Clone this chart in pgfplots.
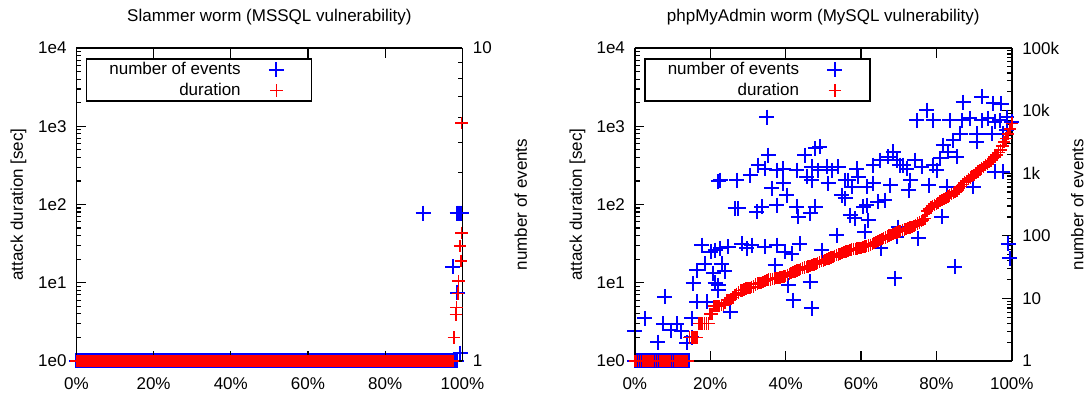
\documentclass[border=0pt]{standalone}
\usepackage{pgfplots}
\pgfplotsset{compat=1.18}
\usepackage{fontspec}
\setmainfont{Liberation Sans}
\newcommand\fsz{\fontsize{8.5}{10.2}\selectfont}
\pgfplotsset{
  mybase/.style={
    scale only axis, height=156.5pt, anchor=south west,
    xmin=0, xmax=100, clip=false,
    tick align=inside,
    major tick length=4.8pt, minor tick length=2.4pt,
    every tick/.style={black, line width=0.6pt},
    axis line style={black, line width=0.8pt},
    tick label style={font=\fsz},
    label style={font=\fsz},
    title style={font=\fsz, at={(axis description cs:0.5,1)}, anchor=center, yshift=9.5pt},
  },
  myev/.style={only marks, mark=+, color=blue, mark size=3.75pt, line width=1pt},
  mydu/.style={only marks, mark=+, color=red, mark size=3.1pt, line width=0.8pt},
}
\begin{document}
\fsz
\begin{tikzpicture}
\useasboundingbox (0,0) rectangle (543pt,197pt);
\clip (0,0) rectangle (543pt,197pt);
% ---------------- left: Slammer ----------------
\begin{axis}[mybase, ymode=log, axis x line=none, axis y line*=right,
  at={(38.2pt,16.5pt)}, width=193pt, ymin=1, ymax=10,
  ytick={1,10}, yticklabels={1,10}, yticklabel style={xshift=2.2pt},
  ylabel={number of events},
  ylabel style={at={(axis description cs:1.1513,0.5)}, anchor=center}]
\addplot[myev] coordinates {
(0,1)(0.5,1)(1,1)(1.5,1)(2,1)(2.5,1)(3,1)(3.5,1)(4,1)(4.5,1)(5,1)(5.5,1)(6,1)(6.5,1)(7,1)(7.5,1)(8,1)(8.5,1)(9,1)(9.5,1)
(10,1)(10.5,1)(11,1)(11.5,1)(12,1)(12.5,1)(13,1)(13.5,1)(14,1)(14.5,1)(15,1)(15.5,1)(16,1)(16.5,1)(17,1)(17.5,1)(18,1)(18.5,1)(19,1)(19.5,1)
(20,1)(20.5,1)(21,1)(21.5,1)(22,1)(22.5,1)(23,1)(23.5,1)(24,1)(24.5,1)(25,1)(25.5,1)(26,1)(26.5,1)(27,1)(27.5,1)(28,1)(28.5,1)(29,1)(29.5,1)
(30,1)(30.5,1)(31,1)(31.5,1)(32,1)(32.5,1)(33,1)(33.5,1)(34,1)(34.5,1)(35,1)(35.5,1)(36,1)(36.5,1)(37,1)(37.5,1)(38,1)(38.5,1)(39,1)(39.5,1)
(40,1)(40.5,1)(41,1)(41.5,1)(42,1)(42.5,1)(43,1)(43.5,1)(44,1)(44.5,1)(45,1)(45.5,1)(46,1)(46.5,1)(47,1)(47.5,1)(48,1)(48.5,1)(49,1)(49.5,1)
(50,1)(50.5,1)(51,1)(51.5,1)(52,1)(52.5,1)(53,1)(53.5,1)(54,1)(54.5,1)(55,1)(55.5,1)(56,1)(56.5,1)(57,1)(57.5,1)(58,1)(58.5,1)(59,1)(59.5,1)
(60,1)(60.5,1)(61,1)(61.5,1)(62,1)(62.5,1)(63,1)(63.5,1)(64,1)(64.5,1)(65,1)(65.5,1)(66,1)(66.5,1)(67,1)(67.5,1)(68,1)(68.5,1)(69,1)(69.5,1)
(70,1)(70.5,1)(71,1)(71.5,1)(72,1)(72.5,1)(73,1)(73.5,1)(74,1)(74.5,1)(75,1)(75.5,1)(76,1)(76.5,1)(77,1)(77.5,1)(78,1)(78.5,1)(79,1)(79.5,1)
(80,1)(80.5,1)(81,1)(81.5,1)(82,1)(82.5,1)(83,1)(83.5,1)(84,1)(84.5,1)(85,1)(85.5,1)(86,1)(86.5,1)(87,1)(87.5,1)(88,1)(88.5,1)(89,1)(89.5,1)
(90,1)(90.5,1)(91,1)(91.5,1)(92,1)(92.5,1)(93,1)(93.5,1)(94,1)(94.5,1)(95,1)(95.5,1)(96,1)(96.5,1)(97,1)(97.5,1)(98,1)(98.5,1)
(89.8,2.97)(98.6,2.97)(98.9,2.97)(99.2,2.97)(99.5,2.97)(99.7,2.97)(97.5,2.0)(98.7,1.65)(99.4,1.06)
};
\end{axis}
\begin{axis}[mybase, ymode=log, axis y line*=left, axis on top, at={(38.2pt,16.5pt)}, width=193pt,
  ymin=1, ymax=1e4,
  ytick={1,10,100,1000,10000}, yticklabels={1e0,1e1,1e2,1e3,1e4},
  yticklabel style={xshift=-1.9pt},
  xtick={0,20,40,60,80,100}, xticklabels={0\%,20\%,40\%,60\%,80\%,100\%},
  xticklabel style={yshift=-5.2pt},
  ylabel={attack duration [sec]},
  ylabel style={at={(axis description cs:-0.1503,0.5)}, anchor=center},
  title={Slammer worm (MSSQL vulnerability)},
  legend style={at={(axis description cs:0,1)}, anchor=north west, xshift=4.8pt, yshift=-5.2pt,
    draw=black, line width=0.7pt, fill=white, inner sep=0pt, row sep=0pt,
    nodes={inner sep=0pt, minimum height=10.5pt}, font=\fsz},
  legend plot pos=right, legend cell align=right,
  legend image code/.code={\path (0pt,0pt) (34.5pt,0pt); \draw[#1] plot coordinates {(17.3pt,0pt)};}]
\addlegendimage{only marks, mark=+, color=blue, mark size=3.75pt, line width=1pt}
\addlegendentry{\makebox[77pt][r]{number of events}}
\addplot[mydu] coordinates {
(0,1)(0.5,1)(1,1)(1.5,1)(2,1)(2.5,1)(3,1)(3.5,1)(4,1)(4.5,1)(5,1)(5.5,1)(6,1)(6.5,1)(7,1)(7.5,1)(8,1)(8.5,1)(9,1)(9.5,1)
(10,1)(10.5,1)(11,1)(11.5,1)(12,1)(12.5,1)(13,1)(13.5,1)(14,1)(14.5,1)(15,1)(15.5,1)(16,1)(16.5,1)(17,1)(17.5,1)(18,1)(18.5,1)(19,1)(19.5,1)
(20,1)(20.5,1)(21,1)(21.5,1)(22,1)(22.5,1)(23,1)(23.5,1)(24,1)(24.5,1)(25,1)(25.5,1)(26,1)(26.5,1)(27,1)(27.5,1)(28,1)(28.5,1)(29,1)(29.5,1)
(30,1)(30.5,1)(31,1)(31.5,1)(32,1)(32.5,1)(33,1)(33.5,1)(34,1)(34.5,1)(35,1)(35.5,1)(36,1)(36.5,1)(37,1)(37.5,1)(38,1)(38.5,1)(39,1)(39.5,1)
(40,1)(40.5,1)(41,1)(41.5,1)(42,1)(42.5,1)(43,1)(43.5,1)(44,1)(44.5,1)(45,1)(45.5,1)(46,1)(46.5,1)(47,1)(47.5,1)(48,1)(48.5,1)(49,1)(49.5,1)
(50,1)(50.5,1)(51,1)(51.5,1)(52,1)(52.5,1)(53,1)(53.5,1)(54,1)(54.5,1)(55,1)(55.5,1)(56,1)(56.5,1)(57,1)(57.5,1)(58,1)(58.5,1)(59,1)(59.5,1)
(60,1)(60.5,1)(61,1)(61.5,1)(62,1)(62.5,1)(63,1)(63.5,1)(64,1)(64.5,1)(65,1)(65.5,1)(66,1)(66.5,1)(67,1)(67.5,1)(68,1)(68.5,1)(69,1)(69.5,1)
(70,1)(70.5,1)(71,1)(71.5,1)(72,1)(72.5,1)(73,1)(73.5,1)(74,1)(74.5,1)(75,1)(75.5,1)(76,1)(76.5,1)(77,1)(77.5,1)(78,1)(78.5,1)(79,1)(79.5,1)
(80,1)(80.5,1)(81,1)(81.5,1)(82,1)(82.5,1)(83,1)(83.5,1)(84,1)(84.5,1)(85,1)(85.5,1)(86,1)(86.5,1)(87,1)(87.5,1)(88,1)(88.5,1)(89,1)(89.5,1)
(90,1)(90.5,1)(91,1)(91.5,1)(92,1)(92.5,1)(93,1)(93.5,1)(94,1)(94.5,1)(95,1)(95.5,1)(96,1)(96.5,1)(97,1)(97.5,1)
(0.25,1)(0.75,1)(1.25,1)(1.75,1)(2.25,1)(2.75,1)(3.25,1)(3.75,1)(4.25,1)(4.75,1)(5.25,1)(5.75,1)(6.25,1)(6.75,1)(7.25,1)(7.75,1)(8.25,1)(8.75,1)(9.25,1)(9.75,1)
(10.25,1)(10.75,1)(11.25,1)(11.75,1)(12.25,1)(12.75,1)(13.25,1)(13.75,1)(14.25,1)(14.75,1)(15.25,1)(15.75,1)(16.25,1)(16.75,1)(17.25,1)(17.75,1)(18.25,1)(18.75,1)(19.25,1)(19.75,1)
(20.25,1)(20.75,1)(21.25,1)(21.75,1)(22.25,1)(22.75,1)(23.25,1)(23.75,1)(24.25,1)(24.75,1)(25.25,1)(25.75,1)(26.25,1)(26.75,1)(27.25,1)(27.75,1)(28.25,1)(28.75,1)(29.25,1)(29.75,1)
(30.25,1)(30.75,1)(31.25,1)(31.75,1)(32.25,1)(32.75,1)(33.25,1)(33.75,1)(34.25,1)(34.75,1)(35.25,1)(35.75,1)(36.25,1)(36.75,1)(37.25,1)(37.75,1)(38.25,1)(38.75,1)(39.25,1)(39.75,1)
(40.25,1)(40.75,1)(41.25,1)(41.75,1)(42.25,1)(42.75,1)(43.25,1)(43.75,1)(44.25,1)(44.75,1)(45.25,1)(45.75,1)(46.25,1)(46.75,1)(47.25,1)(47.75,1)(48.25,1)(48.75,1)(49.25,1)(49.75,1)
(50.25,1)(50.75,1)(51.25,1)(51.75,1)(52.25,1)(52.75,1)(53.25,1)(53.75,1)(54.25,1)(54.75,1)(55.25,1)(55.75,1)(56.25,1)(56.75,1)(57.25,1)(57.75,1)(58.25,1)(58.75,1)(59.25,1)(59.75,1)
(60.25,1)(60.75,1)(61.25,1)(61.75,1)(62.25,1)(62.75,1)(63.25,1)(63.75,1)(64.25,1)(64.75,1)(65.25,1)(65.75,1)(66.25,1)(66.75,1)(67.25,1)(67.75,1)(68.25,1)(68.75,1)(69.25,1)(69.75,1)
(70.25,1)(70.75,1)(71.25,1)(71.75,1)(72.25,1)(72.75,1)(73.25,1)(73.75,1)(74.25,1)(74.75,1)(75.25,1)(75.75,1)(76.25,1)(76.75,1)(77.25,1)(77.75,1)(78.25,1)(78.75,1)(79.25,1)(79.75,1)
(80.25,1)(80.75,1)(81.25,1)(81.75,1)(82.25,1)(82.75,1)(83.25,1)(83.75,1)(84.25,1)(84.75,1)(85.25,1)(85.75,1)(86.25,1)(86.75,1)(87.25,1)(87.75,1)(88.25,1)(88.75,1)(89.25,1)(89.75,1)
(90.25,1)(90.75,1)(91.25,1)(91.75,1)(92.25,1)(92.75,1)(93.25,1)(93.75,1)(94.25,1)(94.75,1)(95.25,1)(95.75,1)(96.25,1)(96.75,1)(97.25,1)
(97.8,2)(97.9,2)(98.3,3.95)(98.5,4.85)(98.8,7.3)(99.0,10.5)(99.6,19)(99.4,29.7)(99.8,43.5)(99.8,1100)
};
\addlegendentry{\makebox[77pt][r]{duration}}
\end{axis}
% ---------------- right: phpMyAdmin ----------------
\begin{axis}[mybase, ymode=log, axis x line=none, axis y line*=right,
  at={(317.4pt,16.5pt)}, width=188.5pt, ymin=1, ymax=1e5,
  ytick={1,10,100,1000,10000,100000}, yticklabels={1,10,100,1k,10k,100k},
  yticklabel style={xshift=2.2pt},
  ylabel={number of events},
  ylabel style={at={(axis description cs:1.1735,0.5)}, anchor=center}]
\addplot[myev] coordinates {
(0,1)(0.5,1)(1,1)(1.5,1)(2,1)(2.5,1)(3,1)(3.5,1)(4,1)(4.5,1)(5,1)(5.5,1)(6,1)(6.5,1)(7,1)(7.5,1)(8,1)(8.5,1)(9,1)(9.5,1)
(10,1)(10.5,1)(11,1)(11.5,1)(12,1)(12.5,1)(13,1)(13.5,1)(14,1)(14.5,1)
(0,3)(2.7,4.8)(6.1,2)(8.0,10.6)(7.6,3.9)(9.5,3.1)(11.1,3.9)(12.3,3.0)(13.8,1.95)(15.1,4.8)(15.5,17.4)(16.4,8.8)(15.1,2.4)
(17.7,71)(18.6,36)(16.4,28)(19.1,8.8)(20.2,56)(20.8,25)(21.3,17.8)(22.1,13.6)(23.0,36)(21.3,59)(22.1,745)
(35.0,7900)(22.6,775)(27.0,775)(30.6,930)(32.8,1350)(35.4,1950)(34.5,1180)(37.6,1120)(39.4,1180)(36.3,570)(39.4,690)
(40.3,445)(42.9,1120)(45.1,1950)(45.6,870)(46.9,775)(26.6,275)(27.4,275)(32.3,240)(33.7,290)(37.6,310)(42.9,290)
(43.4,200)(46.5,228)(22.6,63)(24.8,67)(28.4,75)(29.7,63)(31.0,71)(34.5,67)(37.6,71)(39.8,56)(41.6,52)(43.8,75)
(37.2,34)(23.9,27)(22.1,16.3)(25.3,6.1)(40.7,16.3)(42.0,9.4)(46.5,18.5)(46.9,6.9)(47.8,2500)(46.9,1260)
(49.1,2630)(48.7,1120)(50.9,1260)(52.2,1120)(54.0,1260)(55.8,775)(58.9,1180)(59.3,870)(63.3,1350)(65.0,1620)
(67.2,1820)(68.6,2190)(70.3,1350)(51.3,690)(56.6,775)(57.5,605)(61.5,605)(63.3,690)(67.8,645)(54.9,445)(55.8,395)
(61.5,310)(60.6,290)(66.3,371)(64.5,348)(47.8,290)(57.1,214)(58.4,190)(61.9,178)(61.0,116)(53.6,102)(49.6,59)
(65.2,63)(69.0,21)
(87.1,13700)(92.0,16600)(95.1,13000)(77.4,10200)(74.8,7000)(79.2,7000)(83.6,7000)(86.7,7000)(88.9,7500)(92.0,7000)
(93.8,7500)(95.5,6600)(86.3,4300)(90.7,4300)(94.7,4300)(84.5,3370)(90.7,3160)(81.8,2800)(83.2,2190)(81.0,1720)
(85.4,1820)(74.3,1620)(69.5,1620)(71.2,1350)(72.1,1180)(76.1,1260)(79.2,1350)(80.1,1120)(73.1,775)(78.0,645)
(72.6,537)(82.8,605)(89.8,605)(95.5,1050)(81.4,200)(75.2,91)(69.5,96)(84.9,32)(69.9,138)
(96.8,7000)(97.2,12900)(97.7,4300)(98.6,7900)(100,6600)(99.1,75)(99.5,44)(97.6,1050)(98.6,4900)
};
\end{axis}
\begin{axis}[mybase, ymode=log, axis y line*=left, axis on top, at={(317.4pt,16.5pt)}, width=188.5pt,
  ymin=1, ymax=1e4,
  ytick={1,10,100,1000,10000}, yticklabels={1e0,1e1,1e2,1e3,1e4},
  yticklabel style={xshift=-1.9pt},
  xtick={0,20,40,60,80,100}, xticklabels={0\%,20\%,40\%,60\%,80\%,100\%},
  xticklabel style={yshift=-5.2pt},
  ylabel={attack duration [sec]},
  ylabel style={at={(axis description cs:-0.1523,0.5)}, anchor=center},
  title={phpMyAdmin worm (MySQL vulnerability)},
  legend style={at={(axis description cs:0,1)}, anchor=north west, xshift=4.8pt, yshift=-5.2pt,
    draw=black, line width=0.7pt, fill=white, inner sep=0pt, row sep=0pt,
    nodes={inner sep=0pt, minimum height=10.5pt}, font=\fsz},
  legend plot pos=right, legend cell align=right,
  legend image code/.code={\path (0pt,0pt) (34.5pt,0pt); \draw[#1] plot coordinates {(17.3pt,0pt)};}]
\addlegendimage{only marks, mark=+, color=blue, mark size=3.75pt, line width=1pt}
\addlegendentry{\makebox[77pt][r]{number of events}}
\addplot[mydu] coordinates {
(0,1)(0.5,1)(1,1)(1.5,1)(2,1)(2.5,1)(3,1)(3.5,1)(4,1)(4.5,1)(5,1)(5.5,1)(6,1)(6.5,1)(7,1)(7.5,1)(8,1)(8.5,1)(9,1)(9.5,1)
(10,1)(10.5,1)(11,1)(11.5,1)(12,1)(12.5,1)(13,1)(13.5,1)(14,1)
(14.5,2)(15,2)(15.5,2)(16,2)(16.5,2)(17,3)(17.5,3)(18,3)(18.5,3)(19,3)(19.5,3)(20,4)(20.5,4)
(21,5)(21.5,5)(22,5)(22.5,5)(23,5.2)(23.5,5.2)(24,5.5)(24.5,6)(25,6)(25.5,6.2)(26,6.5)(26.5,7)(27,7.2)(27.5,7.5)
(28,8)(28.5,8)(29,8.2)(29.5,8.4)(30,8.5)(30.5,8.6)(31,8.8)(31.5,9)(32,9.5)(32.5,9.8)(33,10)(33.5,10)(34,10.2)(34.5,10.5)(35,10.8)
(35.5,11)(36,11)(36.5,11.2)(37,11.3)(37.5,11.5)(38,11.5)(38.5,11.7)(39,11.8)(39.5,12)(40,12.2)
(40.5,12.5)(41,13)(41.5,13.3)(42,13.6)(42.5,14)(43,14.3)(43.5,14.6)(44,15)(44.5,15.3)
(45,15.6)(45.5,15.9)(46,16.2)(46.5,16.5)(47,16.8)(47.5,17.1)(48,17.5)(48.5,17.9)(49,18.3)
(49.5,18.8)(50,19)(50.5,19.5)(51,20)(51.5,20.5)(52,21)(52.5,21.5)
(53,22)(53.5,22.5)(54,23)(54.5,23.5)(55,24)(55.5,24.5)(56,25)(56.5,25.5)(57,26)(57.5,26.5)(58,27)(58.5,27.2)(59,27.5)(59.5,27.8)
(60,28)(60.5,28.5)(61,29)(61.5,29.5)(62,30)(62.5,30.5)(63,31)(63.5,32)(64,33)(64.5,34)(65,35)(65.5,36)(66,37)
(66.5,38)(67,39)(67.5,40)(68,41)(68.5,42)(69,43)(69.5,44)(70,45)
(70.5,46)(71,47)(71.5,48)(72,49)(72.5,50)(73,51)(73.5,52)(74,53)(74.5,55)
(75,57)(75.5,59)(76,61)(76.5,63)(77,66)
(77.5,82)(78,88)(78.5,92)(79,95)(79.5,98)(80,101)(80.5,105)(81,110)
(81.5,114)(82,118)(82.5,122)(83,126)(83.5,130)(84,135)(84.5,140)(85,145)(85.5,150)
(86,160)(86.5,170)(87,180)(87.5,190)(88,200)(88.5,210)(89,220)(89.5,230)(90,240)
(90.5,252)(91,264)(91.5,276)(92,290)(92.5,304)(93,318)(93.5,332)(94,348)(94.5,366)(95,385)
(95.5,405)(96,430)(96.5,460)(97,500)(97.5,560)(98,630)(98.5,700)(99,800)(99.5,920)(100,1080)
};
\addlegendentry{\makebox[77pt][r]{duration}}
\end{axis}
\end{tikzpicture}
\end{document}
